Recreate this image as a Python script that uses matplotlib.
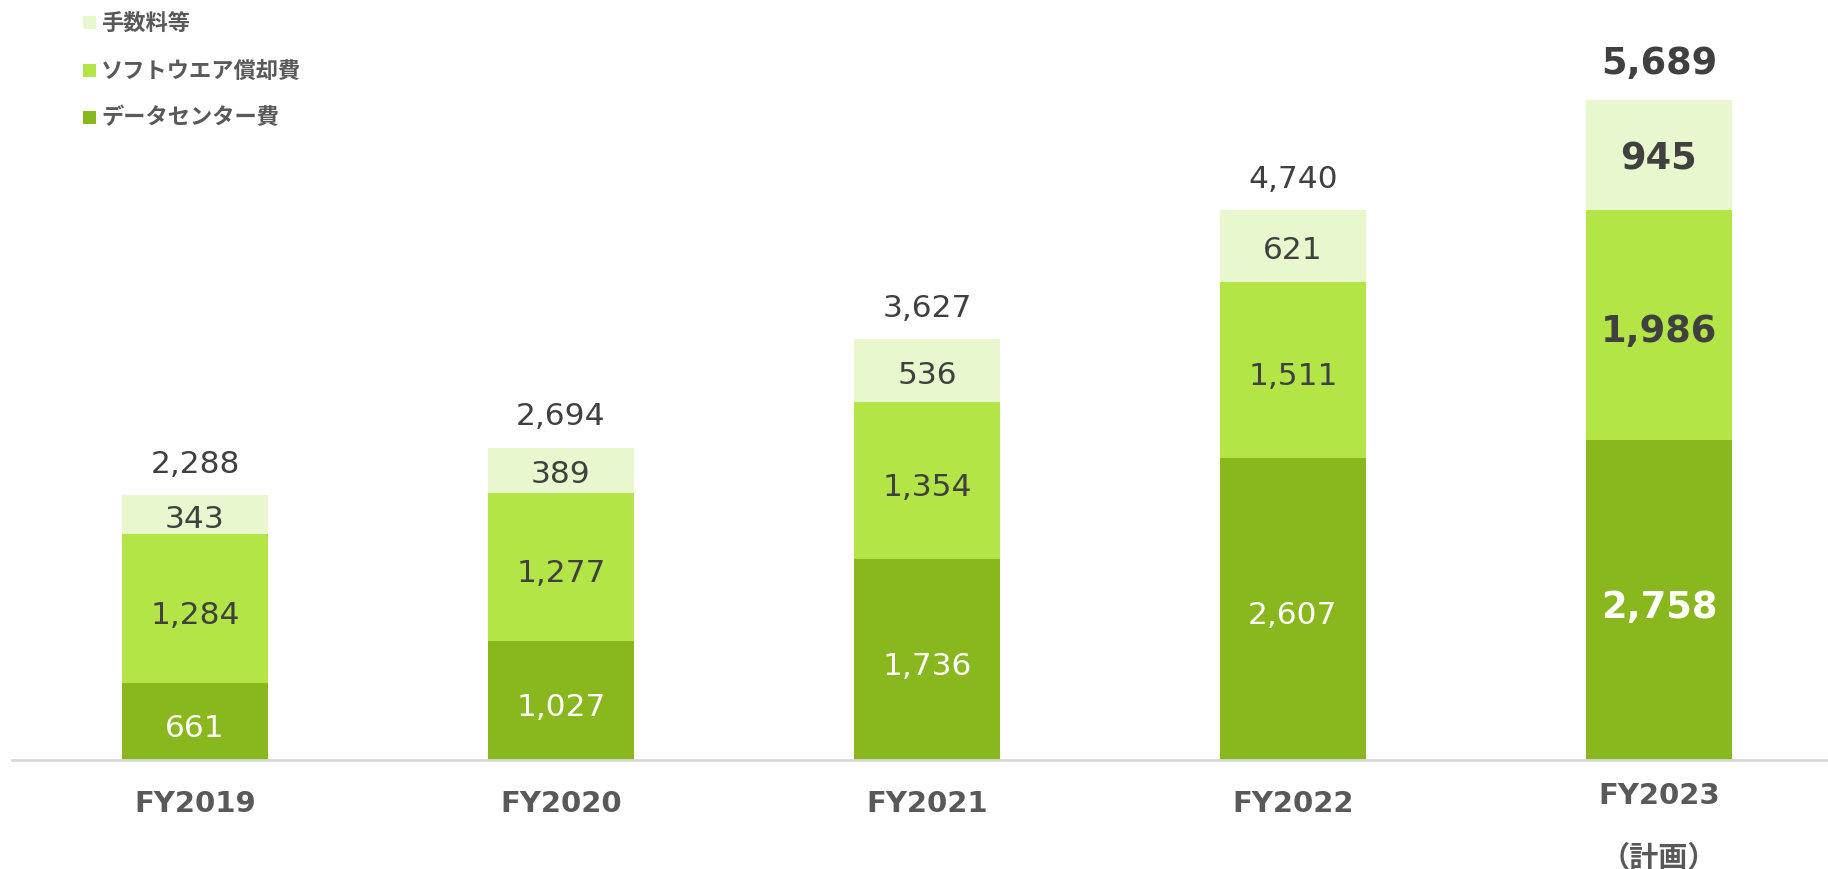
import matplotlib
matplotlib.use("Agg")
import matplotlib.pyplot as plt
from matplotlib.patches import Rectangle

plt.rcParams['font.family'] = ['DejaVu Sans', 'Noto Sans CJK JP']

categories = ["FY2019", "FY2020", "FY2021", "FY2022", "FY2023"]
sub_labels = ["", "", "", "", "（計画）"]
datacenter = [661, 1027, 1736, 2607, 2758]
software = [1284, 1277, 1354, 1511, 1986]
fees = [343, 389, 536, 621, 945]
totals = [2288, 2694, 3627, 4740, 5689]
series_names = ["データセンター費", "ソフトウエア償却費", "手数料等"]

c_dark = "#88B71E"
c_mid = "#B3E546"
c_light = "#E9F7CE"
txt_dark = "#404040"
txt_gray = "#595959"

W, H = 1828, 870
PPU = 0.11601  # pixels per data unit
fig = plt.figure(figsize=(W / 100, H / 100), dpi=100)
ax_left = 12 / W
ax_bottom = (H - 761) / H
ax = fig.add_axes([ax_left, ax_bottom, 1 - ax_left, 761 / H])

x = list(range(len(categories)))
width = 0.4
bottom2 = datacenter
bottom3 = [a + b for a, b in zip(datacenter, software)]
ax.bar(x, datacenter, width, color=c_dark, linewidth=0)
ax.bar(x, software, width, bottom=bottom2, color=c_mid, linewidth=0)
ax.bar(x, fees, width, bottom=bottom3, color=c_light, linewidth=0)

ax.set_xlim(-0.5, 4.462)
ax.set_ylim(0, 6560)
for s in ax.spines.values():
    s.set_visible(False)
ax.set_xticks([])
ax.set_yticks([])
ax.axhline(0, color="#D9D9D9", lw=2, clip_on=False)

fs = 22.5
fsb = 26.5
dy = 6 / PPU
for i in x:
    bold = (i == len(x) - 1)
    f = fsb if bold else fs
    w = "bold" if bold else "normal"
    ax.text(i, datacenter[i] / 2 - dy, f"{datacenter[i]:,}", ha="center", va="center",
            color="white", fontsize=f, fontweight=w)
    ax.text(i, bottom2[i] + software[i] / 2 - dy, f"{software[i]:,}", ha="center", va="center",
            color=txt_dark, fontsize=f, fontweight=w)
    ax.text(i, bottom3[i] + fees[i] / 2 - dy * 0.6, f"{fees[i]:,}", ha="center", va="center",
            color=txt_dark, fontsize=f, fontweight=w)
    off = (345 if bold else 293) - 2.5 / PPU
    ax.text(i, totals[i] + off, f"{totals[i]:,}", ha="center", va="center",
            color=txt_dark, fontsize=f, fontweight=w)
    if sub_labels[i]:
        ax.text(i, -35 / PPU, categories[i], ha="center", va="center",
                color=txt_gray, fontsize=21, fontweight="bold", clip_on=False)
        ax.text(i, -97 / PPU, sub_labels[i], ha="center", va="center",
                color=txt_gray, fontsize=21, fontweight="bold", clip_on=False,
                family=["Noto Sans CJK JP", "DejaVu Sans"])
    else:
        ax.text(i, -43 / PPU, categories[i], ha="center", va="center",
                color=txt_gray, fontsize=21, fontweight="bold", clip_on=False)

# legend (top-left)
leg_items = [(series_names[2], c_light, 23), (series_names[1], c_mid, 71), (series_names[0], c_dark, 118)]
for name, col, yc in leg_items:
    sq = 13
    fig.add_artist(Rectangle((83 / W, (H - yc - sq / 2) / H), sq / W, sq / H,
                             transform=fig.transFigure, color=col, lw=0))
    fig.text(101 / W, (H - yc) / H, name, ha="left", va="center", color=txt_gray,
             fontsize=16, fontweight="bold", family=["Noto Sans CJK JP", "DejaVu Sans"])

fig.savefig("out.png", dpi=100)
